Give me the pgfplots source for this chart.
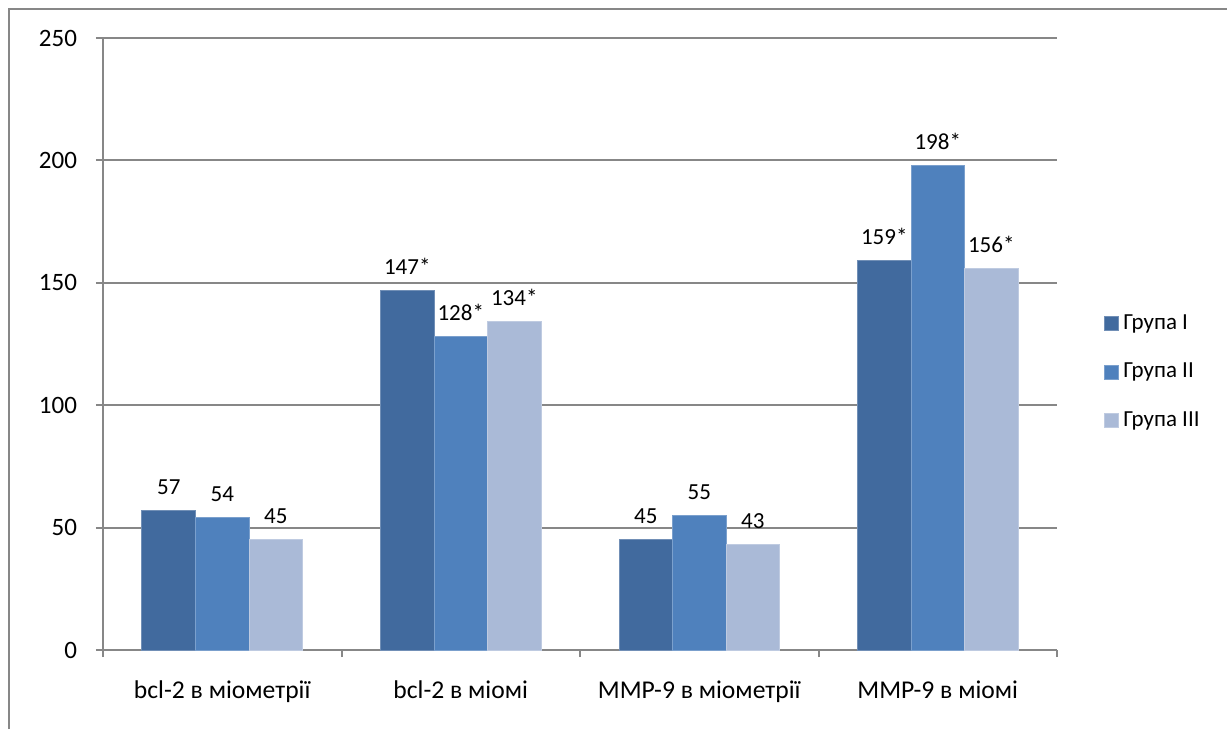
\documentclass[border=0pt]{standalone}
\usepackage{pgfplots}
\pgfplotsset{compat=1.18}
\usepackage{fontspec}
\setmainfont{Carlito}

\definecolor{grpA}{HTML}{416A9E}
\definecolor{grpB}{HTML}{4F81BD}
\definecolor{grpC}{HTML}{AABAD7}
\definecolor{axgray}{HTML}{878787}

\begin{document}
\fontsize{11.5}{13.8}\selectfont
\begin{tikzpicture}
\useasboundingbox (0,0) rectangle (613.5pt,364.5pt);
% chart frame (cut at right and bottom)
\draw[axgray, line width=1pt] (4.25pt,0) -- (4.25pt,360pt) -- (613.5pt,360pt);

\begin{axis}[
    at={(51.5pt,39.5pt)}, anchor=south west,
    scale only axis,
    width=477pt, height=306pt,
    xmin=0.5, xmax=4.5,
    ymin=0, ymax=250,
    ytick={0,50,...,250},
    xtick={0.5,1.5,...,4.5},
    xticklabels={},
    extra x ticks={1,2,3,4},
    extra x tick labels={bcl-2 в міометрії, bcl-2 в міомі, MMP-9 в міометрії, MMP-9 в міомі},
    extra x tick style={major tick length=0pt},
    xticklabel style={anchor=base, yshift=-24.3pt, font=\fontsize{12.8}{15}\selectfont},
    yticklabel style={font=\fontsize{12.5}{15}\selectfont, xshift=-5.5pt},
    /pgf/number format/assume math mode=true,
    axis x line=bottom, axis y line=left,
    axis line style={-, axgray, line width=1pt},
    tick align=outside,
    major tick length=3.5pt,
    tick style={axgray, line width=1pt},
    ymajorgrids,
    major grid style={axgray, line width=0.9pt},
    ybar=0pt,
    bar width=26.75pt,
    nodes near coords,
    point meta=explicit symbolic,
    nodes near coords style={anchor=base, yshift=8pt},
    legend image code/.code={\fill[#1] (0pt,-3.5pt) rectangle (7pt,3.5pt);},
    legend style={draw=none, fill=none, at={(1.043,0.454)}, anchor=west,
        row sep=11pt, font=\fontsize{11.5}{13.8}\selectfont},
    legend cell align=left,
]
\addplot[fill=grpA, draw=grpA!75!white, line width=0.5pt]
    coordinates {(1,57)[57] (2,147)[147*] (3,45)[45] (4,159)[159*]};
\addplot[fill=grpB, draw=grpB!75!white, line width=0.5pt]
    coordinates {(1,54)[54] (2,128)[128*] (3,55)[55] (4,198)[198*]};
\addplot[fill=grpC, draw=grpC!75!white, line width=0.5pt]
    coordinates {(1,45)[45] (2,134)[134*] (3,43)[43] (4,156)[156*]};
\legend{Група I, Група II, Група III}
\end{axis}
\end{tikzpicture}
\end{document}
